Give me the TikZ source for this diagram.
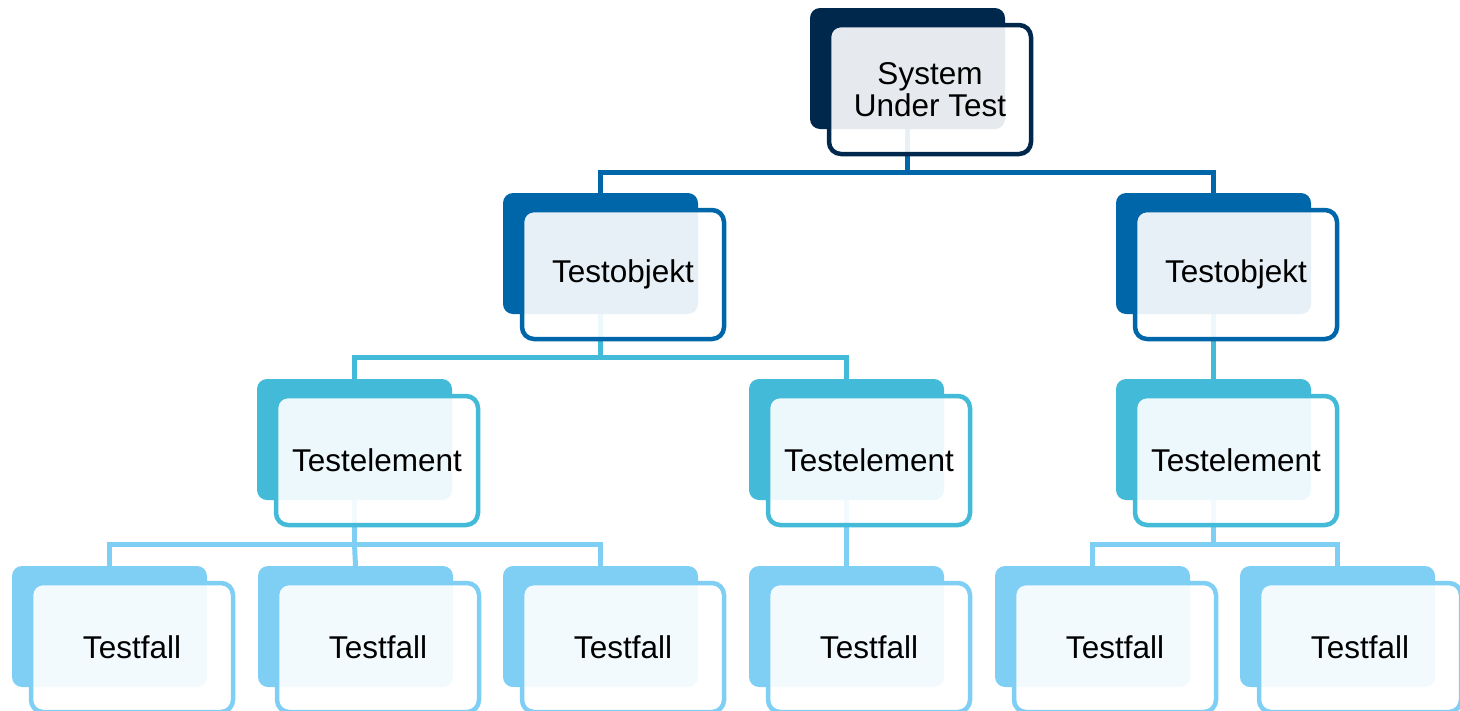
\documentclass[tikz,border=0pt]{standalone}
\usepackage{fontspec}
\setmainfont{Liberation Sans}
\usetikzlibrary{backgrounds}

\definecolor{lvzero}{HTML}{00284D}
\definecolor{lvone}{HTML}{0066AA}
\definecolor{lvtwo}{HTML}{42BAD8}
\definecolor{lvthree}{HTML}{7FCFF5}

\tikzset{
  backbox/.style={rectangle, rounded corners=10pt, minimum width=195pt,
    minimum height=121pt, inner sep=0pt, outer sep=0pt},
  frontbox/.style={rectangle, rounded corners=12pt, minimum width=202pt,
    minimum height=129pt, inner sep=0pt, line width=4.5pt, fill=white,
    fill opacity=0.9, text opacity=1, align=center,
    font=\fontsize{31.5}{32}\selectfont},
  conn/.style={line width=5pt}
}

% a filled back card with an outlined, slightly translucent card on top
\newcommand\cardpair[5]{%
  \node[backbox, fill=#4] (b#1) at (#2+97.5, #3+60.5) {};
  \node[frontbox, draw=#4] (f#1) at (#2+120, #3+81.5) {#5};
}

\begin{document}
\begin{tikzpicture}[x=1pt, y=-1pt]
\useasboundingbox (0,0) rectangle (1460,710);

\cardpair{sut}{810}{8}{lvzero}{System\\Under Test}

\cardpair{oa}{503}{193}{lvone}{Testobjekt}
\cardpair{ob}{1116}{193}{lvone}{Testobjekt}

\cardpair{ea}{257}{379}{lvtwo}{Testelement}
\cardpair{eb}{749}{379}{lvtwo}{Testelement}
\cardpair{ec}{1116}{379}{lvtwo}{Testelement}

\cardpair{fa}{12}{566}{lvthree}{Testfall}
\cardpair{fb}{258}{566}{lvthree}{Testfall}
\cardpair{fc}{503}{566}{lvthree}{Testfall}
\cardpair{fd}{749}{566}{lvthree}{Testfall}
\cardpair{fe}{995}{566}{lvthree}{Testfall}
\cardpair{ff}{1240}{566}{lvthree}{Testfall}

\coordinate (busone) at (0,172);
\coordinate (bustwo) at (0,357);
\coordinate (busthree) at (0,544);

\begin{scope}[on background layer]
  % system -> test objects
  \draw[conn, lvone] (bsut.south) -- (bsut.south |- busone);
  \draw[conn, lvone] (boa.north) |- (bsut.south |- busone) -| (bob.north);
  % test objects -> test elements
  \draw[conn, lvtwo] (boa.south) -- (boa.south |- bustwo);
  \draw[conn, lvtwo] (bea.north) |- (boa.south |- bustwo) -| (beb.north);
  \draw[conn, lvtwo] (bob.south) -- (bec.north);
  % test elements -> test cases
  \draw[conn, lvthree] (bea.south) -- (bea.south |- busthree);
  \draw[conn, lvthree] (bfa.north) |- (bea.south |- busthree) -| (bfc.north);
  \draw[conn, lvthree] (bfb.north) -- (bea.south |- busthree);
  \draw[conn, lvthree] (beb.south) -- (bfd.north);
  \draw[conn, lvthree] (bec.south) -- (bec.south |- busthree);
  \draw[conn, lvthree] (bfe.north) |- (bec.south |- busthree) -| (bff.north);
\end{scope}
\end{tikzpicture}
\end{document}
